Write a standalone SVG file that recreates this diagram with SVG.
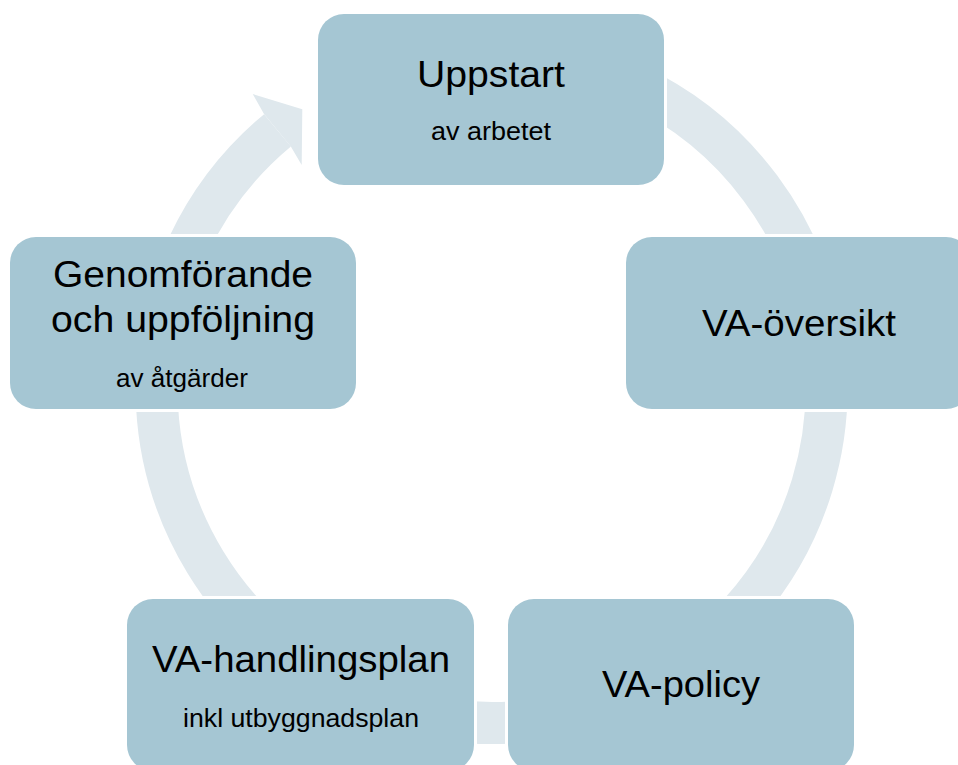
<svg xmlns="http://www.w3.org/2000/svg" width="958" height="765" viewBox="0 0 958 765">
<style>
.halo{fill:#ffffff}
.box{fill:#a5c6d3}
.ring{fill:none;stroke:#dfe8ed;stroke-width:42}
.head{fill:#dfe8ed}
.big{font-family:"Liberation Sans",Arial,sans-serif;font-size:37px;fill:#000;text-anchor:middle}
.small{font-family:"Liberation Sans",Arial,sans-serif;font-size:26.5px;fill:#000;text-anchor:middle}
</style>
<rect width="958" height="765" fill="#ffffff"/>
<g id="connectors">
<path class="ring" d="M 491.5 53 A 335 335 0 1 1 277.5 130.3"/>
<polygon class="head" points="264,114 252.7,94 302.3,109.3 301.7,165 290.8,146.5"/>
</g>
<g id="node-uppstart">
<rect class="halo" x="315" y="11" width="352" height="177" rx="29"/>
<rect class="box" x="318" y="14" width="346" height="171" rx="26"/>
<text class="big" x="491" y="87" textLength="148" lengthAdjust="spacingAndGlyphs">Uppstart</text>
<text class="small" x="491" y="140" textLength="120" lengthAdjust="spacingAndGlyphs">av arbetet</text>
</g>
<g id="node-oversikt">
<rect class="halo" x="623" y="234" width="352" height="178" rx="29"/>
<rect class="box" x="626" y="237" width="346" height="172" rx="26"/>
<text class="big" x="799" y="336" textLength="194" lengthAdjust="spacingAndGlyphs">VA-översikt</text>
</g>
<g id="node-policy">
<rect class="halo" x="505" y="596" width="352" height="178" rx="29"/>
<rect class="box" x="508" y="599" width="346" height="172" rx="26"/>
<text class="big" x="681" y="697" textLength="158" lengthAdjust="spacingAndGlyphs">VA-policy</text>
</g>
<g id="node-handlingsplan">
<rect class="halo" x="124" y="596" width="353" height="178" rx="29"/>
<rect class="box" x="127" y="599" width="347" height="172" rx="26"/>
<text class="big" x="301" y="672" textLength="298" lengthAdjust="spacingAndGlyphs">VA-handlingsplan</text>
<text class="small" x="301" y="727" textLength="236" lengthAdjust="spacingAndGlyphs">inkl utbyggnadsplan</text>
</g>
<g id="node-genomforande">
<rect class="halo" x="7" y="234" width="352" height="178" rx="29"/>
<rect class="box" x="10" y="237" width="346" height="172" rx="26"/>
<text class="big" x="183" y="287" textLength="260" lengthAdjust="spacingAndGlyphs">Genomförande</text>
<text class="big" x="183" y="332" textLength="264" lengthAdjust="spacingAndGlyphs">och uppföljning</text>
<text class="small" x="182" y="387" textLength="132" lengthAdjust="spacingAndGlyphs">av åtgärder</text>
</g>
</svg>
